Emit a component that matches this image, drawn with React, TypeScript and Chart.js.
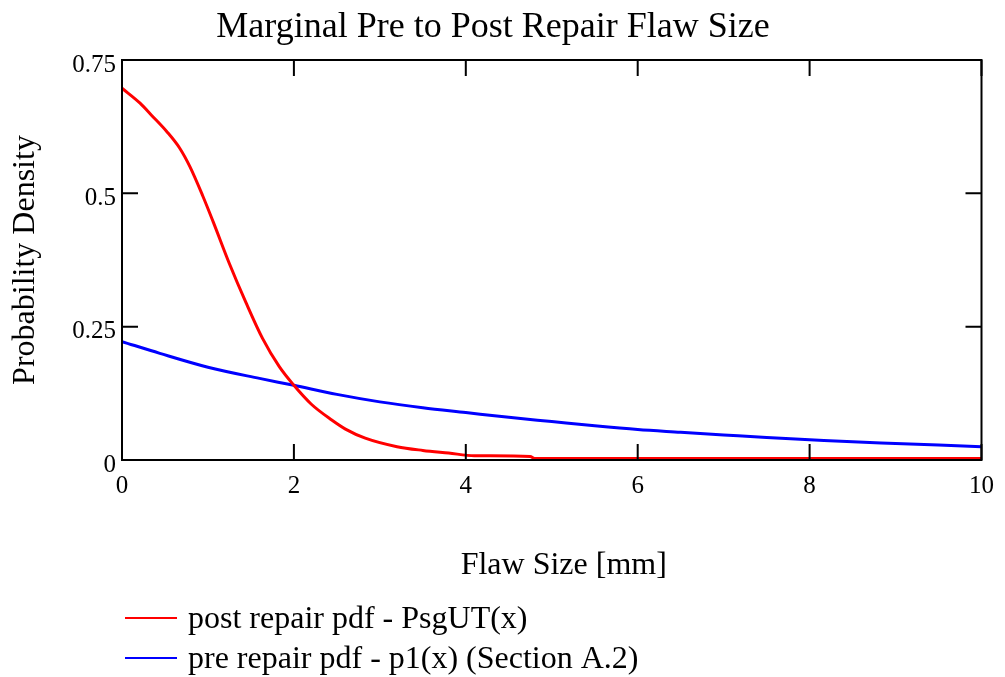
import React, { useEffect, useRef } from 'react';
import { Chart, registerables } from 'chart.js';

Chart.register(...registerables);

// ---- data ----
const postX = [0, 0.21, 0.34, 0.52, 0.67, 0.79, 0.94, 1.06, 1.25, 1.44, 1.635, 1.83, 2.0, 2.2, 2.44, 2.6, 2.83, 3.2, 3.5, 3.8, 4.1, 4.75, 4.8, 6, 8, 10];
const postY = [0.697, 0.669, 0.647, 0.616, 0.585, 0.55, 0.495, 0.447, 0.368, 0.296, 0.228, 0.175, 0.14, 0.105, 0.075, 0.058, 0.041, 0.025, 0.018, 0.013, 0.008, 0.0065, 0.003, 0.003, 0.003, 0.003];

const preX = [0, 0.44, 1.0, 1.6, 2.0, 2.5, 3.0, 3.5, 4.0, 4.5, 5.0, 5.5, 6.0, 6.5, 7.0, 7.5, 8.0, 8.5, 9.0, 9.5, 10];
const preY = [0.222, 0.2, 0.174, 0.153, 0.14, 0.123, 0.109, 0.098, 0.089, 0.08, 0.072, 0.064, 0.057, 0.052, 0.047, 0.042, 0.038, 0.034, 0.031, 0.028, 0.025];

const xTickValues = [0, 2, 4, 6, 8, 10];
const xTickLabels = ['0', '2', '4', '6', '8', '10'];
const yTickValues = [0, 0.25, 0.5, 0.75];
const yTickLabels = ['0', '0.25', '0.5', '0.75'];

const seriesLabels = ['post repair pdf - PsgUT(x)', 'pre repair pdf - p1(x) (Section A.2)'];
const seriesColors = ['#ff0000', '#0000ff'];

const chartTitle = 'Marginal Pre to Post Repair Flaw Size';
const xAxisTitle = 'Flaw Size [mm]';
const yAxisTitle = 'Probability Density';

const FONT = '"Liberation Serif", "Times New Roman", serif';

const frameTicksPlugin = {
  id: 'frameTicks',
  afterDatasetsDraw(chart: any) {
    const { ctx, chartArea: a, scales } = chart;
    const xs = scales.x;
    const ys = scales.y;
    const L = 16;
    ctx.save();
    ctx.strokeStyle = '#000';
    ctx.lineWidth = 2;
    ctx.beginPath();
    xTickValues.forEach((v) => {
      const px = xs.getPixelForValue(v);
      ctx.moveTo(px, a.bottom);
      ctx.lineTo(px, a.bottom - L);
      ctx.moveTo(px, a.top);
      ctx.lineTo(px, a.top + L);
    });
    yTickValues.forEach((v) => {
      const py = ys.getPixelForValue(v);
      ctx.moveTo(a.left, py);
      ctx.lineTo(a.left + L, py);
      ctx.moveTo(a.right, py);
      ctx.lineTo(a.right - L, py);
    });
    ctx.stroke();
    ctx.strokeRect(a.left, a.top, a.right - a.left, a.bottom - a.top);
    ctx.restore();
  },
};

// x-axis title (placed slightly right of the plot centre, as in the reference) and the stacked legend
const bottomTextPlugin = {
  id: 'bottomText',
  afterDraw(chart: any) {
    const { ctx, chartArea: a } = chart;
    ctx.save();
    ctx.fillStyle = '#000';
    ctx.textBaseline = 'alphabetic';
    ctx.font = `32px ${FONT}`;
    ctx.textAlign = 'center';
    ctx.fillText(xAxisTitle, (a.left + a.right) / 2 + 12, 574);

    ctx.font = `32px ${FONT}`;
    ctx.textAlign = 'left';
    ctx.textBaseline = 'middle';
    chart.data.datasets.forEach((ds: any, i: number) => {
      const y = 618 + i * 40;
      ctx.strokeStyle = ds.borderColor;
      ctx.lineWidth = 2;
      ctx.beginPath();
      ctx.moveTo(125, y);
      ctx.lineTo(177, y);
      ctx.stroke();
      ctx.fillText(ds.label, 188, y + 2);
    });
    ctx.restore();
  },
};

export default function App() {
  const canvasRef = useRef<HTMLCanvasElement | null>(null);

  useEffect(() => {
    if (!canvasRef.current) return;
    const toPoints = (xs: number[], ys: number[]) => xs.map((x, i) => ({ x, y: ys[i] }));
    const chart = new Chart(canvasRef.current, {
      type: 'line',
      data: {
        datasets: [
          {
            label: seriesLabels[0],
            data: toPoints(postX, postY),
            borderColor: seriesColors[0],
            backgroundColor: seriesColors[0],
            borderWidth: 3,
            pointRadius: 0,
            cubicInterpolationMode: 'monotone',
            fill: false,
          },
          {
            label: seriesLabels[1],
            data: toPoints(preX, preY),
            borderColor: seriesColors[1],
            backgroundColor: seriesColors[1],
            borderWidth: 3,
            pointRadius: 0,
            cubicInterpolationMode: 'monotone',
            fill: false,
          },
        ],
      },
      options: {
        responsive: false,
        animation: false,
        layout: { padding: { left: 0, right: 19, top: 0, bottom: 0 } },
        plugins: {
          legend: { display: false },
          tooltip: { enabled: false },
          title: {
            display: true,
            text: chartTitle,
            color: '#000',
            font: { family: FONT, size: 36, weight: 'normal', lineHeight: 1.2 },
            padding: { top: 6, bottom: 10.8 },
          },
        },
        scales: {
          x: {
            type: 'linear',
            min: 0,
            max: 10,
            afterBuildTicks: (scale: any) => {
              scale.ticks = xTickValues.map((v) => ({ value: v }));
            },
            afterFit: (scale: any) => {
              scale.height = 217;
            },
            grid: { display: false, drawTicks: false },
            border: { display: false },
            ticks: {
              color: '#000',
              font: { family: FONT, size: 25 },
              padding: 11,
              maxRotation: 0,
              autoSkip: false,
              callback: (_v: any, i: number) => xTickLabels[i],
            },
            title: { display: false },
          },
          y: {
            type: 'linear',
            min: 0,
            max: 0.75,
            afterBuildTicks: (scale: any) => {
              scale.ticks = yTickValues.map((v) => ({ value: v }));
            },
            afterFit: (scale: any) => {
              scale.width = 122;
            },
            grid: { display: false, drawTicks: false },
            border: { display: false },
            ticks: {
              color: '#000',
              font: { family: FONT, size: 25 },
              padding: 6,
              labelOffset: 5,
              autoSkip: false,
              callback: (_v: any, i: number) => yTickLabels[i],
            },
            title: {
              display: true,
              text: yAxisTitle,
              color: '#000',
              font: { family: FONT, size: 32, lineHeight: 1.2 },
              padding: { top: 6, bottom: 0 },
            },
          },
        },
      },
      plugins: [frameTicksPlugin, bottomTextPlugin],
    } as any);
    return () => chart.destroy();
  }, []);

  return (
    <div style={{ position: 'fixed', left: 0, top: 0, width: 1005, height: 677, background: '#fff' }}>
      <canvas ref={canvasRef} width={1005} height={677} style={{ display: 'block' }} />
    </div>
  );
}
